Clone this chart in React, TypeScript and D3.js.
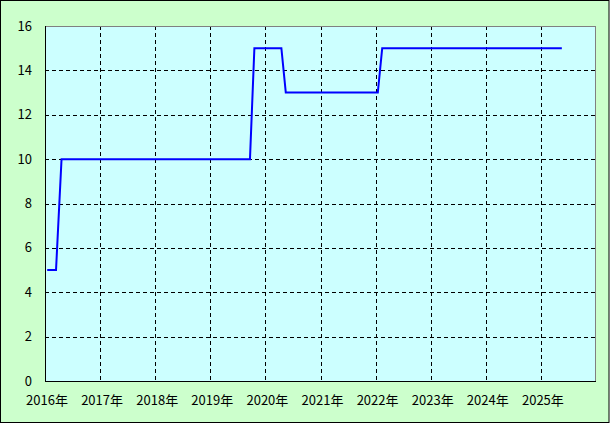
import React from "react";
import * as d3 from "d3";

const years = [2016, 2017, 2018, 2019, 2020, 2021, 2022, 2023, 2024, 2025];
const yTicks = [0, 2, 4, 6, 8, 10, 12, 14, 16];
const dates = [2016.04, 2016.2, 2016.3, 2019.72, 2019.8, 2020.29, 2020.37, 2022.04, 2022.12, 2025.38];
const values = [5, 5, 10, 10, 15, 15, 13, 13, 15, 15];

const W = 610;
const H = 424;
const L = 45, T = 26, R = 596, B = 381;

export default function App() {
  const x = d3.scaleLinear().domain([2016, 2026]).range([L, R]);
  const y = d3.scaleLinear().domain([0, 16]).range([B, T]);
  const pts = dates.map((d, i) => [x(d), y(values[i])] as [number, number]);
  const line = d3.line()(pts) || "";
  const font = "'MS Gothic', 'Noto Sans CJK JP', 'DejaVu Sans', sans-serif";
  return (
    <svg width={W} height={H} style={{ position: "absolute", left: 0, top: 0 }}>
      <rect x={0.5} y={0.5} width={608.5} height={422} fill="#CCFFCC" stroke="#000" strokeWidth={1} />
      <rect x={L} y={T} width={R - L} height={B - T} fill="#CCFFFF" />
      {years.slice(1).map((yr) => (
        <line key={"gx" + yr} x1={Math.round(x(yr)) + 0.5} x2={Math.round(x(yr)) + 0.5} y1={T} y2={B}
          stroke="#000" strokeDasharray="4,3" strokeWidth={1} />
      ))}
      {yTicks.slice(1, -1).map((v) => (
        <line key={"gy" + v} x1={L} x2={R} y1={Math.round(y(v)) + 0.5} y2={Math.round(y(v)) + 0.5}
          stroke="#000" strokeDasharray="4,3" strokeWidth={1} />
      ))}
      <line x1={L} x2={R} y1={T + 0.5} y2={T + 0.5} stroke="#808080" />
      <line x1={R - 0.5} x2={R - 0.5} y1={T} y2={B} stroke="#808080" />
      <line x1={L + 0.5} x2={L + 0.5} y1={T} y2={B + 1} stroke="#000" />
      <line x1={L} x2={R} y1={B + 0.5} y2={B + 0.5} stroke="#000" />
      <path d={line} fill="none" stroke="#0000FF" strokeWidth={2} />
      {yTicks.map((v) => (
        <text key={"ty" + v} x={32} y={y(v)} dy="0.35em" textAnchor="end" fontSize={13} fontFamily={font} fill="#000">
          {v}
        </text>
      ))}
      {years.map((yr) => (
        <text key={"tx" + yr} x={x(yr) + 2} y={400} dy="0.35em" textAnchor="middle" fontSize={13} fontFamily={font} fill="#000">
          {yr}年
        </text>
      ))}
    </svg>
  );
}
